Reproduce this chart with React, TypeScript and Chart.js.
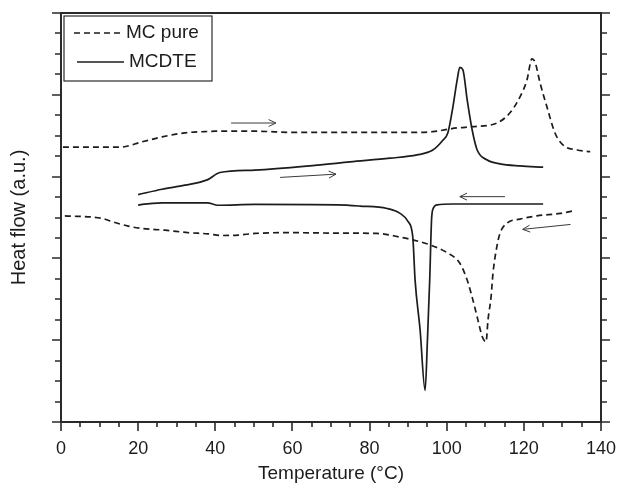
import React, { useEffect, useRef } from 'react';
import { Chart, registerables } from 'chart.js';
Chart.register(...registerables);

const FONT = '"Liberation Sans", Arial, Helvetica, sans-serif';
const INK = '#1c1c1c';
const AXIS = '#2a2a2a';

const xMin = 0, xMax = 140, xMajor = 20, xMinor = 5;
const yMin = 0, yMax = 100, yMajor = 20, yMinor = 5;

const xTitle = 'Temperature (°C)';
const yTitle = 'Heat flow (a.u.)';
const seriesNames = ['MC pure', 'MCDTE'];

// MC pure — heating run (upper dashed)
const mcPureHeatT = [0.5, 8, 15.3, 21.0, 26.2, 32.1, 37.3, 40, 50.3, 60.2, 70, 80, 92.3, 96.4, 102.7, 106.8, 113.0, 116.4, 119.0, 120.8, 122.1, 122.9, 124.2, 126.0, 128.1, 130.2, 133.8, 137.2];
const mcPureHeatV = [67.2, 67.2, 67.2, 68.5, 69.7, 70.7, 71.0, 71.1, 71.1, 70.8, 70.8, 70.8, 70.8, 71.0, 71.9, 72.2, 73.1, 75.6, 79.5, 83.6, 88.8, 88.0, 82.9, 77.0, 70.6, 67.7, 66.5, 66.1];

// MC pure — cooling run (lower dashed)
const mcPureCoolT = [1.0, 10.6, 13.2, 17.4, 21.0, 27.0, 32.9, 38.1, 41.7, 45.9, 50.3, 58.6, 70, 81.9, 87.9, 91.3, 95.7, 100.1, 103.4, 105.3, 106.8, 108.1, 109.2, 110.2, 110.7, 111.5, 112.0, 113.0, 113.8, 115.6, 119.0, 123.4, 129.4, 132.7];
const mcPureCoolV = [50.4, 49.8, 49.0, 47.9, 47.3, 46.9, 46.3, 46.0, 45.6, 45.7, 46.1, 46.3, 46.2, 46.1, 45.2, 44.5, 43.3, 41.4, 38.8, 34.7, 29.8, 24.9, 20.9, 19.6, 24.9, 30.6, 36.4, 42.9, 46.1, 48.6, 49.6, 50.4, 51.0, 51.6];

// MCDTE — heating run (upper solid)
const mcdteHeatT = [20.0, 26.2, 32.1, 37.9, 41.2, 50.3, 66.4, 74.9, 85.3, 92.3, 96.4, 99.0, 100.3, 101.6, 102.7, 103.4, 104.2, 105.3, 106.6, 107.9, 110.4, 113.8, 119.0, 125.0];
const mcdteHeatV = [55.6, 56.9, 57.9, 59.2, 61.0, 61.6, 62.8, 63.6, 64.5, 65.3, 66.5, 68.9, 70.7, 77.0, 83.6, 86.7, 86.1, 78.8, 71.4, 66.5, 64.1, 63.1, 62.6, 62.3];

// MCDTE — cooling run (lower solid)
const mcdteCoolT = [20.0, 21.0, 26.2, 37.9, 40.7, 50.3, 71.6, 77.5, 84.5, 87.9, 90.0, 91.2, 91.8, 93.1, 94.4, 95.0, 95.6, 96.1, 96.6, 97.5, 101.6, 125.0];
const mcdteCoolV = [53.0, 53.2, 53.6, 53.6, 53.0, 53.2, 53.1, 52.8, 52.2, 51.0, 49.0, 45.3, 34.7, 22.5, 7.7, 20.0, 35.0, 50.0, 52.4, 53.1, 53.3, 53.3];

// direction arrows (tail -> head, data units)
const arrowTailT = [44.1, 56.8, 115.1, 132.1];
const arrowTailV = [73.1, 59.8, 55.1, 48.3];
const arrowHeadT = [55.7, 71.3, 103.4, 119.7];
const arrowHeadV = [73.1, 60.6, 55.1, 47.1];

const zip = (t: number[], v: number[]) => t.map((x, i) => ({ x, y: v[i] }));

const framePlugin = {
  id: 'frameTicks',
  afterDraw(chart: any) {
    const { ctx, chartArea, scales } = chart;
    const { left, right, top, bottom } = chartArea;
    const xs = scales.x, ys = scales.y;
    ctx.save();
    ctx.strokeStyle = AXIS;
    ctx.lineWidth = 2;
    ctx.strokeRect(left, top, right - left, bottom - top);
    ctx.lineWidth = 1.6;
    ctx.beginPath();
    for (let v = xMin; v <= xMax + 1e-9; v += xMinor) {
      const px = Math.round(xs.getPixelForValue(v));
      const len = Math.abs(v % xMajor) < 1e-9 ? 9 : 5;
      ctx.moveTo(px, bottom);
      ctx.lineTo(px, bottom + len);
    }
    for (let v = yMin; v <= yMax + 1e-9; v += yMinor) {
      const py = Math.round(ys.getPixelForValue(v));
      const len = Math.abs(v % yMajor) < 1e-9 ? 9 : 6;
      ctx.moveTo(left, py);
      ctx.lineTo(left - len, py);
      ctx.moveTo(right, py);
      ctx.lineTo(right + len, py);
    }
    ctx.stroke();

    // arrows
    ctx.strokeStyle = '#3a3a3a';
    ctx.lineWidth = 1;
    for (let i = 0; i < arrowTailT.length; i++) {
      const x1 = xs.getPixelForValue(arrowTailT[i]);
      const y1 = ys.getPixelForValue(arrowTailV[i]);
      const x2 = xs.getPixelForValue(arrowHeadT[i]);
      const y2 = ys.getPixelForValue(arrowHeadV[i]);
      const a = Math.atan2(y2 - y1, x2 - x1);
      const hl = 8, ha = 0.45;
      ctx.beginPath();
      ctx.moveTo(x1, y1);
      ctx.lineTo(x2, y2);
      ctx.moveTo(x2 - hl * Math.cos(a - ha), y2 - hl * Math.sin(a - ha));
      ctx.lineTo(x2, y2);
      ctx.lineTo(x2 - hl * Math.cos(a + ha), y2 - hl * Math.sin(a + ha));
      ctx.stroke();
    }

    // legend box
    const bx = left + 3, by = top + 3, bw = 148, bh = 65;
    ctx.strokeStyle = AXIS;
    ctx.lineWidth = 1.2;
    ctx.strokeRect(bx, by, bw, bh);
    ctx.strokeStyle = INK;
    ctx.lineWidth = 1.7;
    ctx.setLineDash([6, 4]);
    ctx.beginPath();
    ctx.moveTo(bx + 10, by + 17);
    ctx.lineTo(bx + 60, by + 17);
    ctx.stroke();
    ctx.setLineDash([]);
    ctx.beginPath();
    ctx.moveTo(bx + 13, by + 46);
    ctx.lineTo(bx + 60, by + 46);
    ctx.stroke();
    ctx.fillStyle = INK;
    ctx.font = `19px ${FONT}`;
    ctx.textBaseline = 'middle';
    ctx.textAlign = 'left';
    ctx.fillText(seriesNames[0], bx + 62, by + 17);
    ctx.fillText(seriesNames[1], bx + 65, by + 46);
    ctx.restore();
  },
};

export default function App() {
  const ref = useRef<HTMLCanvasElement | null>(null);
  useEffect(() => {
    if (!ref.current) return;
    const common = {
      pointRadius: 0,
      borderWidth: 1.7,
      borderColor: INK,
      fill: false,
      cubicInterpolationMode: 'monotone' as const,
    };
    const chart = new Chart(ref.current, {
      type: 'line',
      data: {
        datasets: [
          { ...common, label: seriesNames[0], data: zip(mcPureHeatT, mcPureHeatV), borderDash: [6, 4] },
          { ...common, label: seriesNames[0], data: zip(mcPureCoolT, mcPureCoolV), borderDash: [6, 4] },
          { ...common, label: seriesNames[1], data: zip(mcdteHeatT, mcdteHeatV) },
          { ...common, label: seriesNames[1], data: zip(mcdteCoolT, mcdteCoolV) },
        ],
      },
      options: {
        responsive: false,
        animation: false,
        devicePixelRatio: 1,
        layout: { padding: { top: 13, right: 18, left: 0, bottom: 0 } },
        plugins: { legend: { display: false }, tooltip: { enabled: false } },
        scales: {
          x: {
            type: 'linear',
            min: xMin,
            max: xMax,
            grid: { display: false },
            border: { display: false },
            ticks: {
              stepSize: xMajor,
              color: INK,
              font: { family: FONT, size: 18 },
              padding: 8,
              maxRotation: 0,
              autoSkip: false,
            },
            title: {
              display: true,
              text: xTitle,
              color: INK,
              font: { family: FONT, size: 19, lineHeight: 1 },
              padding: { top: 0, bottom: 0 },
            },
            afterFit: (s: any) => { s.height = 61; s.paddingLeft = 0; s.paddingRight = 0; },
          },
          y: {
            type: 'linear',
            min: yMin,
            max: yMax,
            grid: { display: false },
            border: { display: false },
            ticks: { display: false, stepSize: yMajor },
            title: {
              display: true,
              text: yTitle,
              color: INK,
              font: { family: FONT, size: 20, lineHeight: 1 },
              padding: { top: 9, bottom: 0 },
            },
            afterFit: (s: any) => { s.width = 61; s.paddingTop = 0; s.paddingBottom = 0; },
          },
        },
      },
      plugins: [framePlugin],
    });
    return () => chart.destroy();
  }, []);
  return (
    <div style={{ position: 'absolute', left: 0, top: 0, width: 619, height: 483, background: '#fff' }}>
      <canvas ref={ref} width={619} height={483} style={{ width: 619, height: 483, display: 'block' }} />
    </div>
  );
}
